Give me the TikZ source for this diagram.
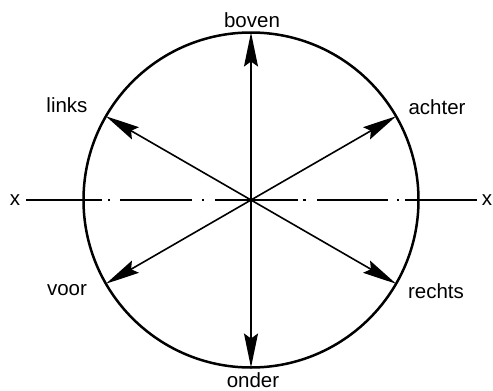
\documentclass[tikz,border=0pt]{standalone}
\usepackage{fontspec}
\setmainfont{Liberation Sans}
\usetikzlibrary{arrows.meta}
\begin{document}
\begin{tikzpicture}[x=1pt,y=-1pt,
  lbl/.style={anchor=base,inner sep=0pt,font=\fontsize{20.5}{24}\selectfont},
  ring/.style={circle,draw,line width=2.5pt,minimum size=335pt,inner sep=0pt,outer sep=0pt},
  dir/.style={line width=1.6pt,-{Stealth[length=34pt,width=14pt,inset=5pt]}},
  axis/.style={line width=1.6pt,dash pattern=on 76pt off 6pt on 2pt off 10pt on 72pt off 10pt on 2pt off 11pt on 83pt off 5pt on 3pt off 11pt on 71pt off 9pt on 2pt off 6pt on 72pt off 10pt}]
\useasboundingbox (0,0) rectangle (493,391);
\node[ring] (c) at (251,200) {};
\coordinate (o) at (c.center);
\coordinate (xl) at (26,200);
\coordinate (xr) at (477,200);
\draw[axis] (xl) -- (xr);
\draw[dir] (o) -- (c.north);
\draw[dir] (o) -- (c.south);
\draw[dir] (o) -- (c.30);
\draw[dir] (o) -- (c.150);
\draw[dir] (o) -- (c.210);
\draw[dir] (o) -- (c.330);
\node[lbl] (boven) at (252,27) {boven};
\node[lbl] (onder) at (253,387) {onder};
\node[lbl] (links) at (67,112) {links};
\node[lbl] (achter) at (437,114) {achter};
\node[lbl] (voor) at (67,295) {voor};
\node[lbl] (rechts) at (436,298) {rechts};
\node[lbl] (xa) at (15,205) {x};
\node[lbl] (xb) at (487,205) {x};
\end{tikzpicture}
\end{document}
